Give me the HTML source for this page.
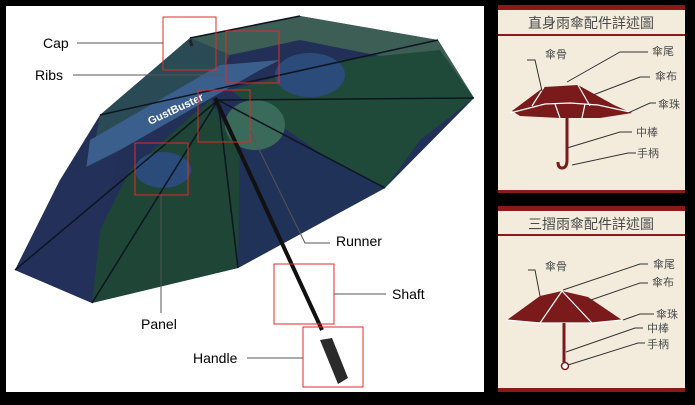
<!DOCTYPE html>
<html><head><meta charset="utf-8"><style>
html,body{margin:0;padding:0;background:#000;}
svg{display:block}
text{font-family:"Liberation Sans",sans-serif;}
.cjk{font-family:"Liberation Sans","Noto Sans CJK TC",sans-serif;fill:#4a4a4a;}
</style></head><body>
<svg width="695" height="405" viewBox="0 0 695 405" xmlns="http://www.w3.org/2000/svg">
<rect width="695" height="405" fill="#000"/>
<rect x="6" y="6" width="478" height="386" fill="#fff"/>
<polygon points="190,38 300,16 438,40 474,98 385,188 238,268 92,303 15,270 60,180 100,115" fill="#223058"/>
<polygon points="190,38 300,16 438,40 474,98 400,60 300,40 230,55" fill="#3d5e55"/>
<polygon points="100,115 190,38 230,55 210,90 140,130 90,170" fill="#2a4a55"/>
<polygon points="90,140 220,65 280,60 260,70 120,150 86,170" fill="#3b5f8c"/>
<polygon points="230,90 340,60 440,50 474,98 420,140 385,188 330,160" fill="#1f4a3a"/>
<polygon points="92,303 100,230 130,170 210,100 240,150 238,268" fill="#1e4535"/>
<polygon points="15,270 60,180 120,150 100,230 92,303" fill="#23305a"/>
<polygon points="238,268 240,150 290,140 385,188" fill="#213259"/>
<ellipse cx="163" cy="170" rx="28" ry="18" fill="#2b4c7a"/>
<ellipse cx="310" cy="75" rx="35" ry="22" fill="#2b4c7a"/>
<ellipse cx="255" cy="125" rx="30" ry="25" fill="#3a6a5a"/>
<g stroke="#0d1520" stroke-width="1.5" fill="none">
<line x1="218" y1="100" x2="15" y2="270"/>
<line x1="218" y1="100" x2="92" y2="303"/>
<line x1="218" y1="100" x2="238" y2="268"/>
<line x1="218" y1="100" x2="385" y2="188"/>
<line x1="218" y1="100" x2="474" y2="98"/>
<line x1="100" y1="115" x2="438" y2="40"/>
<line x1="190" y1="38" x2="300" y2="16"/>
</g>
<text x="150" y="125" fill="#fff" font-size="11" font-weight="bold" transform="rotate(-25 150 125)">GustBuster</text>
<line x1="215" y1="98" x2="322" y2="330" stroke="#111" stroke-width="4"/>
<line x1="190" y1="40" x2="192" y2="46" stroke="#222" stroke-width="3"/>
<polygon points="320,340 332,338 348,378 338,384" fill="#2a2a2a"/>
<g fill="none" stroke="#e02a2a" stroke-width="1">
<rect x="163" y="17" width="53" height="53"/>
<rect x="226" y="31" width="53" height="52"/>
<rect x="198" y="90" width="52" height="52"/>
<rect x="135" y="143" width="53" height="52"/>
<rect x="274" y="264" width="60" height="60"/>
<rect x="303" y="327" width="60" height="60"/>
</g>
<g stroke="#555" stroke-width="1" fill="none">
<line x1="77" y1="43" x2="163" y2="43"/>
<line x1="73" y1="75" x2="226" y2="75"/>
<polyline points="250,131 305,243 330,243"/>
<line x1="334" y1="294" x2="386" y2="294"/>
<line x1="161" y1="195" x2="161" y2="313"/>
<line x1="247" y1="358" x2="303" y2="358"/>
</g>
<g font-size="14" fill="#000">
<text x="43" y="48">Cap</text>
<text x="35" y="80">Ribs</text>
<text x="336" y="246">Runner</text>
<text x="392" y="299">Shaft</text>
<text x="141" y="329">Panel</text>
<text x="193" y="363">Handle</text>
</g>
<rect x="498" y="5" width="187" height="188" fill="#f3ecdd"/>
<rect x="498" y="5" width="187" height="5" fill="#8a1a1a"/>
<rect x="498" y="34" width="187" height="2" fill="#8a1a1a"/>
<rect x="498" y="190" width="187" height="3" fill="#8a1a1a"/>
<text class="cjk" x="591" y="28" font-size="14" text-anchor="middle">直身雨傘配件詳述圖</text>
<polygon points="512,111 544,87 578,85 614,105 632,113 600,118 560,118 520,116" fill="#7a1a1a"/>
<g stroke="#fff" stroke-width="1.2" fill="none">
<polyline points="510,113 545,104 570,103 598,105 630,112"/>
<line x1="544" y1="87" x2="532" y2="106"/><line x1="578" y1="85" x2="590" y2="106"/>
<line x1="555" y1="104" x2="560" y2="118"/><line x1="585" y1="104" x2="582" y2="118"/>
</g>
<path d="M567,118 V160 q0,8 -5,8 q-4,0 -4,-6" stroke="#7a1a1a" stroke-width="3" fill="none"/>
<g stroke="#333" stroke-width="1" fill="none">
<polyline points="527,60 535,60 542,91"/>
<polyline points="567,82 620,52 648,52"/>
<polyline points="593,95 640,77 650,77"/>
<polyline points="628,113 650,103 656,103"/>
<polyline points="567,148 620,132 632,132"/>
<polyline points="572,165 628,153 636,153"/>
</g>
<g class="cjk" font-size="11">
<text x="545" y="58">傘骨</text><text x="652" y="55">傘尾</text>
<text x="655" y="80">傘布</text><text x="658" y="108">傘珠</text>
<text x="636" y="136">中棒</text><text x="637" y="157">手柄</text>
</g>
<rect x="498" y="206" width="187" height="186" fill="#f3ecdd"/>
<rect x="498" y="206" width="187" height="5" fill="#8a1a1a"/>
<rect x="498" y="234" width="187" height="2" fill="#8a1a1a"/>
<rect x="498" y="388" width="187" height="4" fill="#8a1a1a"/>
<text class="cjk" x="591" y="229" font-size="14" text-anchor="middle">三摺雨傘配件詳述圖</text>
<polygon points="507,320 540,296 562,291 588,297 622,320 592,323 540,323" fill="#7a1a1a"/>
<g stroke="#fff" stroke-width="1.2" fill="none">
<polyline points="507,320 540,323 592,323 622,320"/>
<line x1="562" y1="291" x2="540" y2="323"/><line x1="562" y1="291" x2="592" y2="323"/>
</g>
<line x1="564" y1="323" x2="564" y2="362" stroke="#7a1a1a" stroke-width="3"/>
<circle cx="565" cy="366" r="3.5" fill="#fff" stroke="#7a1a1a" stroke-width="1.5"/>
<g stroke="#333" stroke-width="1" fill="none">
<polyline points="528,270 535,270 540,296"/>
<polyline points="563,290 640,264 648,264"/>
<polyline points="588,301 640,283 648,283"/>
<polyline points="623,320 640,314 654,314"/>
<polyline points="566,352 635,328 643,328"/>
<polyline points="568,365 638,343 645,343"/>
</g>
<g class="cjk" font-size="11">
<text x="545" y="270">傘骨</text><text x="653" y="268">傘尾</text>
<text x="652" y="286">傘布</text><text x="656" y="318">傘珠</text>
<text x="647" y="332">中棒</text><text x="647" y="348">手柄</text>
</g>
</svg>
</body></html>
